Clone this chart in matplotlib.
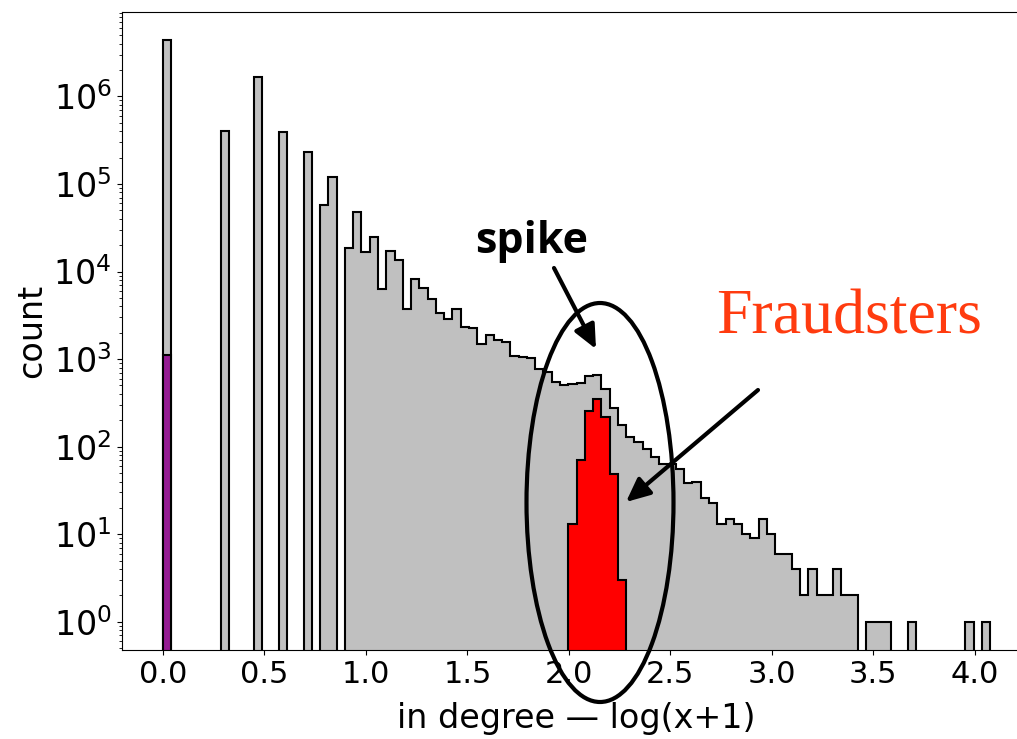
import matplotlib
matplotlib.use("Agg")
import matplotlib.pyplot as plt
from matplotlib.patches import Ellipse
import numpy as np

# ---------------- DATA ----------------
# 100 equal bins over log10(in degree + 1)
x_max = 4.076
n_bins = 100

# count per bin, all nodes (grey)
all_counts = [
    4.4e6, 0, 0, 0, 0, 0, 0, 4.0e5, 0, 0,
    0, 1.65e6, 0, 0, 3.9e5, 0, 0, 2.3e5, 0, 5.8e4,
    1.2e5, 0, 18500, 48000, 16900, 25000, 6400, 17300, 13600, 3700,
    8300, 6500, 4900, 3400, 2900, 3700, 2350, 2250, 1470, 1890,
    1660, 1550, 1090, 1070, 1030, 773, 714, 553, 507, 521,
    531, 640, 660, 455, 275, 177, 130, 114, 94, 77,
    64, 64, 55, 38, 40, 26, 23, 13, 15, 13,
    10, 9, 15, 10, 6, 6, 4, 2, 4, 2,
    2, 4, 2, 2, 0, 1, 1, 1, 0, 0,
    1, 0, 0, 0, 0, 0, 0, 1, 0, 1,
]

# fraudsters (red)
fraud_bins = [49, 50, 51, 52, 53, 54, 55]
fraud_counts = [13, 71, 258, 349, 221, 49, 3]

# zero in-degree group (purple)
zero_bins = [0]
zero_counts = [1100]

W, H = 1017, 739


def fig_xy(px, py):
    """image pixel -> figure fraction"""
    return px / W, 1 - py / H


# ---------------- PLOT ----------------
edges = np.linspace(0, x_max, n_bins + 1)
centers = (edges[:-1] + edges[1:]) / 2

fig = plt.figure(figsize=(W / 100, H / 100), dpi=100)
ax = fig.add_axes([0.1195, 0.1198, 0.8949, 0.8644])

ax.hist(centers, bins=edges, weights=all_counts, histtype='stepfilled',
        facecolor='silver', edgecolor='black', linewidth=1.5, log=True)
ax.hist(centers[fraud_bins], bins=edges, weights=fraud_counts,
        histtype='stepfilled', facecolor='red', edgecolor='black',
        linewidth=1.5, log=True)
ax.hist(centers[zero_bins], bins=edges, weights=zero_counts,
        histtype='stepfilled', facecolor='#951c93', edgecolor='black',
        linewidth=1.5, log=True)

ax.set_xlim(-0.204, 4.28)
ax.set_ylim(0.47, 9.3e6)
ax.set_xticks([0.0, 0.5, 1.0, 1.5, 2.0, 2.5, 3.0, 3.5, 4.0])
ax.tick_params(axis='x', labelsize=22)
ax.tick_params(axis='y', labelsize=24)
ax.set_xlabel("in degree \u2014 log(x+1)", fontsize=24, labelpad=9)
ax.set_ylabel("count", fontsize=24)

# ---------------- ANNOTATIONS ----------------
ell = Ellipse(fig_xy(600, 502.5), 147 / W, 399 / H, transform=fig.transFigure,
              fill=False, edgecolor='black', linewidth=3)
fig.add_artist(ell)

arrow = dict(arrowstyle='-|>,head_length=0.72,head_width=0.33',
             mutation_scale=20, lw=3, color='black', shrinkA=0, shrinkB=0)
ax.annotate('', xy=fig_xy(596, 349), xytext=fig_xy(554, 268),
            xycoords='figure fraction', textcoords='figure fraction',
            arrowprops=arrow, annotation_clip=False)
ax.annotate('', xy=fig_xy(626, 502), xytext=fig_xy(758, 390),
            xycoords='figure fraction', textcoords='figure fraction',
            arrowprops=arrow, annotation_clip=False)

sx, sy = fig_xy(532, 253)
fig.text(sx, sy, "spike", ha='center', va='baseline', fontsize=31,
         fontweight='bold', family='Open Sans')
fx, fy = fig_xy(849, 333)
fig.text(fx, fy, "Fraudsters", ha='center', va='baseline', fontsize=46,
         family='Liberation Serif', color='#ff3b0f')

fig.savefig("out.png", dpi=100)
